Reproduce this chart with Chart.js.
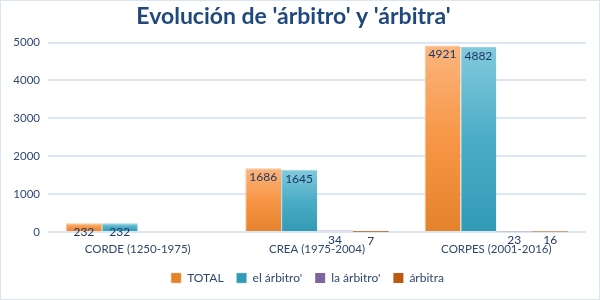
<!DOCTYPE html>
<html>
<head>
<meta charset="utf-8">
<script src="https://cdn.jsdelivr.net/npm/chart.js@4/dist/chart.umd.min.js"></script>
<style>
  html, body { margin: 0; padding: 0; background: #fff; }
  #wrap { position: relative; width: 600px; height: 300px; box-sizing: border-box; border: 1px solid #DCE4F0; }
  canvas { display: block; }
</style>
</head>
<body>
<div id="wrap"><canvas id="c" width="598" height="298"></canvas></div>
<script>
const categories = ['CORDE (1250-1975)', 'CREA (1975-2004)', 'CORPES (2001-2016)'];
const seriesNames = ['TOTAL', "el árbitro'", "la árbitro'", 'árbitra'];
const totalValues = [232, 1686, 4921];
const elArbitroValues = [232, 1645, 4882];
const laArbitroValues = [null, 34, 23];
const arbitraValues = [null, 7, 16];
const yTicks = [0, 1000, 2000, 3000, 4000, 5000];

const FONT = 'Lato, "Liberation Sans", sans-serif';
const TEXT = '#2F4870';

function gradFill(stops) {
  return function(ctx) {
    const chart = ctx.chart;
    const ys = chart.scales.y;
    if (!ys || ctx.parsed == null || ctx.parsed.y == null) return stops[1];
    const top = ys.getPixelForValue(ctx.parsed.y);
    const bot = ys.getPixelForValue(0);
    if (!(isFinite(top) && isFinite(bot)) || Math.abs(bot - top) < 1) return stops[1];
    const g = chart.ctx.createLinearGradient(0, top, 0, bot);
    g.addColorStop(0, stops[0]);
    g.addColorStop(0.5, stops[1]);
    g.addColorStop(1, stops[2]);
    return g;
  };
}

const labelPlugin = {
  id: 'valueLabels',
  afterDatasetsDraw(chart) {
    const ctx = chart.ctx;
    ctx.save();
    ctx.font = '12px ' + FONT;
    ctx.fillStyle = '#1F3864';
    ctx.textAlign = 'center';
    ctx.textBaseline = 'middle';
    chart.data.datasets.forEach((ds, di) => {
      const meta = chart.getDatasetMeta(di);
      meta.data.forEach((el, i) => {
        const v = ds.data[i];
        if (v == null) return;
        ctx.fillText(String(v), el.x, el.y + 9);
      });
    });
    ctx.restore();
  }
};

const legendShift = {
  id: 'legendShift',
  afterLayout(chart) {
    const lg = chart.legend;
    if (lg) { lg.left += 14; lg.right += 14; }
  }
};

new Chart(document.getElementById('c'), {
  type: 'bar',
  data: {
    labels: categories,
    datasets: [
      { label: seriesNames[0], data: totalValues, backgroundColor: gradFill(['#FBB57E', '#F79646', '#E5822C']), borderColor: '#FBC79A', borderWidth: {top:1,left:1,right:0,bottom:0} },
      { label: seriesNames[1], data: elArbitroValues, backgroundColor: gradFill(['#82CADC', '#4BACC6', '#329AB5']), borderColor: '#9BD3E2', borderWidth: {top:1,left:1,right:0,bottom:0} },
      { label: seriesNames[2], data: laArbitroValues, backgroundColor: '#8064A2' },
      { label: seriesNames[3], data: arbitraValues, backgroundColor: '#C0580F' }
    ]
  },
  options: {
    responsive: false,
    animation: false,
    devicePixelRatio: 1,
    layout: { padding: { left: 0, right: 13, top: 0, bottom: 5 } },
    datasets: { bar: { categoryPercentage: 0.8, barPercentage: 1.0 } },
    scales: {
      x: {
        grid: { display: false },
        border: { display: false },
        afterFit(s) { s.height = 27; },
        ticks: { color: TEXT, font: { family: FONT, size: 11.5 }, padding: 2, maxRotation: 0 }
      },
      y: {
        min: 0, max: 5000,
        afterBuildTicks(s) { s.ticks = yTicks.map(v => ({ value: v })); },
        afterFit(s) { s.width = 47; },
        grid: { color: '#DCE6F2', lineWidth: 2, drawTicks: false },
        border: { display: false },
        ticks: { color: TEXT, font: { family: FONT, size: 11.5 }, padding: 8, callback: v => String(v) }
      }
    },
    plugins: {
      title: {
        display: true,
        text: "Evolución de 'árbitro' y 'árbitra'",
        color: '#1F497D',
        font: { family: FONT, size: 23, weight: 'bold' },
        padding: { top: 2, bottom: 12 }
      },
      legend: {
        position: 'bottom',
        labels: {
          color: TEXT,
          font: { family: FONT, size: 12 },
          boxWidth: 10, boxHeight: 10, padding: 13
        }
      },
      tooltip: { enabled: false }
    }
  },
  plugins: [labelPlugin, legendShift]
});
</script>
</body>
</html>
